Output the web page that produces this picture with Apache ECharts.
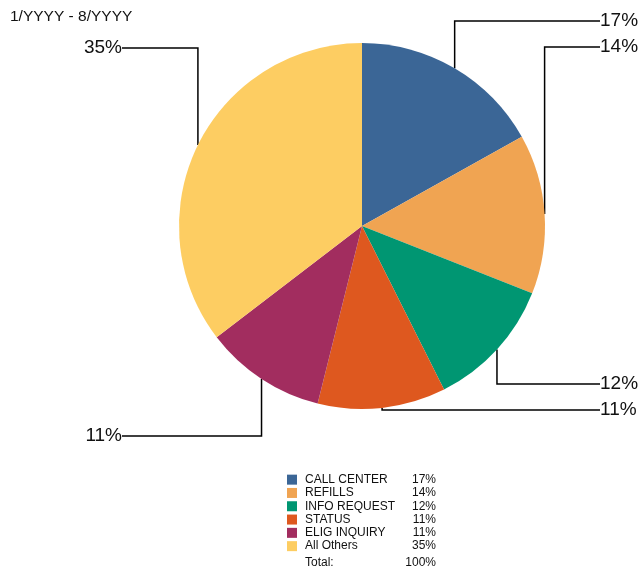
<!DOCTYPE html>
<html>
<head>
<meta charset="utf-8">
<title>pie</title>
<script src="https://cdn.jsdelivr.net/npm/echarts@6/dist/echarts.min.js"></script>
<style>
    html, body { margin: 0; padding: 0; background: #fff; }
    #echart { width: 639px; height: 571px; }
</style>
</head>
<body>
<div id="echart"></div>
<script>
// 数据
var categories = ['CALL CENTER', 'REFILLS', 'INFO REQUEST', 'STATUS', 'ELIG INQUIRY', 'All Others'];
var shares = [16.9, 14.1, 11.6, 11.3, 10.7, 35.4];
var colors = ['#3b6696', '#f0a452', '#009672', '#de581f', '#a22d5f', '#fdcd62'];
// 标签所在高度
var labelY = [21, 47, 384, 410, 436, 48];

var FONT = '"Liberation Sans", Arial, sans-serif';

var myChart = echarts.init(document.getElementById('echart'));

var seriesData = [];
for (var i = 0; i < categories.length; i++) {
    seriesData.push({ name: categories[i], value: shares[i] });
}
var total = 0;
for (var j = 0; j < shares.length; j++) { total += shares[j]; }

var option = {
    animation: false,
    color: colors,
    title: {
        text: '1/YYYY - 8/YYYY',
        left: 5,
        top: 4,
        textStyle: { fontFamily: FONT, fontSize: 15.5, fontWeight: 'normal', color: '#111' }
    },
    legend: {
        orient: 'vertical',
        left: 282,
        top: 468,
        icon: 'rect',
        itemWidth: 10,
        itemHeight: 10,
        itemGap: 0,
        data: categories,
        textStyle: {
            fontFamily: FONT, fontSize: 12, lineHeight: 13.3, color: '#111',
            rich: {
                n: { width: 103, padding: [0, 0, 0, 3], fontFamily: FONT, fontSize: 12, lineHeight: 13.3, color: '#111' },
                v: { width: 28, align: 'right', fontFamily: FONT, fontSize: 12, lineHeight: 13.3, color: '#111' }
            }
        },
        formatter: function (name) {
            var k = categories.indexOf(name);
            return '{n|' + name + '}{v|' + Math.round(shares[k]) + '%}';
        }
    },
    graphic: [
        { type: 'text', left: 305, top: 557, style: { text: 'Total:', font: '12px ' + FONT, fill: '#111' } },
        { type: 'text', right: 639 - 436, top: 557, style: { text: Math.round(total) + '%', font: '12px ' + FONT, fill: '#111', align: 'right' } }
    ],
    series: [
        {
            type: 'pie',
            center: [362, 226],
            radius: 183,
            startAngle: 90,
            clockwise: true,
            avoidLabelOverlap: false,
            data: seriesData,
            label: {
                show: true,
                position: 'outside',
                fontFamily: FONT,
                fontSize: 19,
                color: '#111',
                formatter: function (p) { return Math.round(p.value) + '%'; }
            },
            labelLine: {
                show: true,
                length: 10,
                length2: 10,
                lineStyle: { color: '#000', width: 1.5 }
            },
            labelLayout: function (p) {
                var a = p.labelLinePoints[0];
                var right = a[0] > 362;
                var lx = right ? 600 : 122;
                var ly = labelY[p.dataIndex];
                return {
                    x: lx,
                    y: ly,
                    align: right ? 'left' : 'right',
                    verticalAlign: 'middle',
                    labelLinePoints: [[a[0], a[1]], [a[0], ly], [lx, ly]]
                };
            },
            emphasis: { disabled: true }
        }
    ]
};
myChart.setOption(option);
</script>
</body>
</html>
